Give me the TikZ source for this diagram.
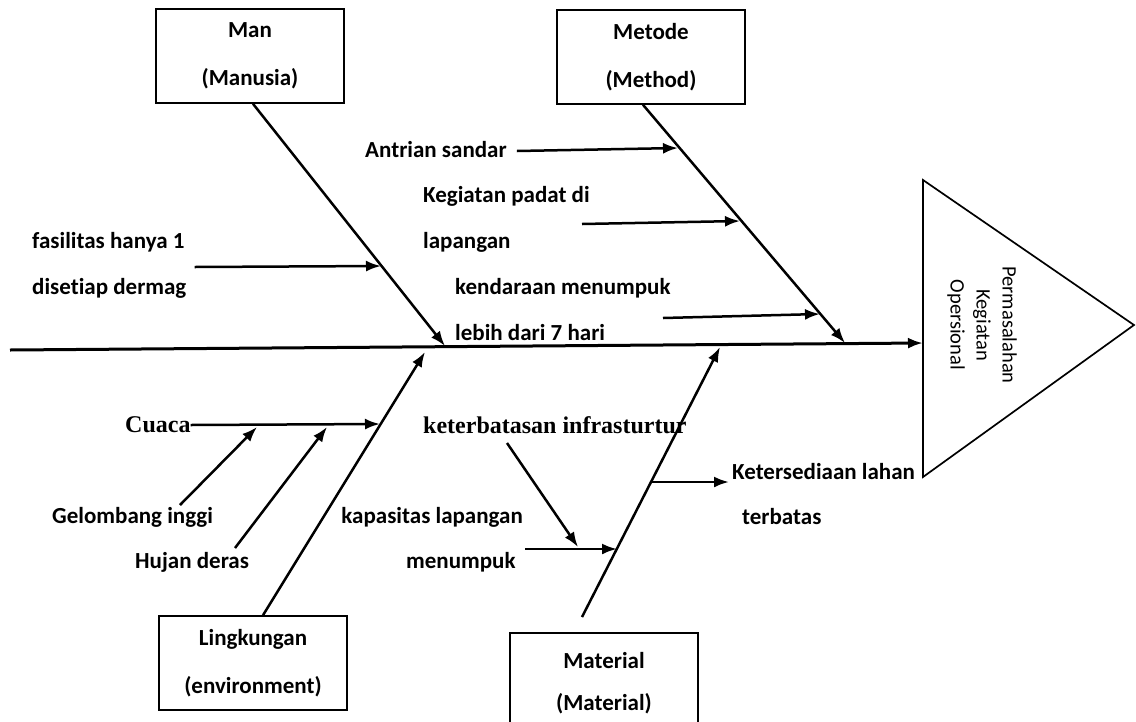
\documentclass[tikz,border=0pt]{standalone}
\usepackage{fontspec}
\setmainfont[Ligatures=NoCommon]{Carlito}
\newfontfamily\serifbold{Liberation Serif}
\usetikzlibrary{arrows.meta,positioning}

\begin{document}
\begin{tikzpicture}[
    x=1pt, y=-1pt,
    box/.style={draw, line width=1.6pt, minimum width=188pt, minimum height=94pt,
      align=center, inner sep=0pt, font=\bfseries\fontsize{23}{48}\selectfont},
    lbl/.style={anchor=west, inner sep=0pt, align=left,
      font=\bfseries\fontsize{23}{46}\selectfont},
    tnr/.style={anchor=west, inner sep=0pt, font=\serifbold\bfseries\fontsize{24}{28}\selectfont},
    arrow/.style={-{Latex[length=15pt,width=11pt]}, line width=2.5pt}
  ]
    \clip (0,0) rectangle (1136,721);
    \fill[white] (0,0) rectangle (1136,721);

    % head of the fish
    \coordinate (tail) at (10,350);
    \coordinate (head) at (923,343);
    \draw[line width=1.7pt] (923,180) -- (1134,325) -- (923,477) -- cycle;
    \node[rotate=-90, align=center, font=\fontsize{20.5}{26}\selectfont] (problem) at (982,325)
      {Permasalahan\\Kegiatan\\Opersional};
    \draw[arrow, line width=3pt] (tail) -- (head);

    % category boxes
    \node[box] (man) at (250,56) {Man\\(Manusia)};
    \node[box] (metode) at (651,57) {Metode\\(Method)};
    \node[box] (env) at (253,663) {Lingkungan\\(environment)};
    \node[box, minimum height=100pt, font=\bfseries\fontsize{23}{42}\selectfont] (mat) at (604,683) {Material\\(Material)};

    % main bones
    \coordinate (manhit) at (445,346);
    \coordinate (methit) at (845,343);
    \coordinate (envhit) at (425,352);
    \coordinate (mathit) at (720,347);
    \coordinate (matfoot) at (582,617);
    \draw[arrow] ([xshift=3pt]man.south) -- (manhit);
    \draw[arrow] ([xshift=-8pt]metode.south) -- (methit);
    \draw[arrow] ([xshift=10pt]env.north) -- (envhit);
    \draw[arrow] (matfoot) -- (mathit);

    % causes
    \node[lbl] (antrian) at (365,150) {Antrian sandar};
    \node[lbl] (kegiatan) at (423,219) {Kegiatan padat di\\lapangan};
    \node[lbl] (kendaraan) at (455,310) {kendaraan menumpuk\\lebih dari 7 hari};
    \node[lbl] (fasilitas) at (32,265) {fasilitas hanya 1\\disetiap dermag};
    \node[tnr] (cuaca) at (125,425) {Cuaca};
    \node[lbl] (gelombang) at (52,517) {Gelombang inggi};
    \node[lbl] (hujan) at (135,562) {Hujan deras};
    \node[tnr] (infra) at (423,425) {keterbatasan infrasturtur};
    \node[lbl, anchor=east] (kapasitas) at (523,517) {kapasitas lapangan};
    \node[lbl] (menumpuk) at (406,562) {menumpuk};
    \node[lbl] (lahan) at (732,472) {Ketersediaan lahan};
    \node[lbl] (terbatas) at (742,517) {terbatas};

    % cause arrows
    \coordinate (antrianhit) at (678,148);
    \coordinate (kegstart) at (582,224);
    \coordinate (keghit) at (740,221);
    \coordinate (kenstart) at (663,318);
    \coordinate (kenhit) at (820,314);
    \coordinate (fashit) at (381,266);
    \coordinate (cuacahit) at (380,424);
    \coordinate (gelstart) at (180,505);
    \coordinate (gelhit) at (257,427);
    \coordinate (hujstart) at (235,548);
    \coordinate (hujhit) at (327,427);
    \coordinate (infrastart) at (507,443);
    \coordinate (infrahit) at (578,547);
    \coordinate (kapstart) at (525,549);
    \coordinate (kaphit) at (617,549);
    \coordinate (lahanstart) at (651,482);
    \draw[arrow] ([xshift=10pt,yshift=-1pt]antrian.east) -- (antrianhit);
    \draw[arrow] (kegstart) -- (keghit);
    \draw[arrow] (kenstart) -- (kenhit);
    \draw[arrow] ([xshift=8pt,yshift=-2pt]fasilitas.east) -- (fashit);
    \draw[arrow] (cuaca.east) -- (cuacahit);
    \draw[arrow] (gelstart) -- (gelhit);
    \draw[arrow] (hujstart) -- (hujhit);
    \draw[arrow] (infrastart) -- (infrahit);
    \draw[arrow] (kapstart) -- (kaphit);
    \draw[arrow] (lahanstart) -- ([xshift=-3pt,yshift=-10pt]lahan.west);
\end{tikzpicture}
\end{document}
